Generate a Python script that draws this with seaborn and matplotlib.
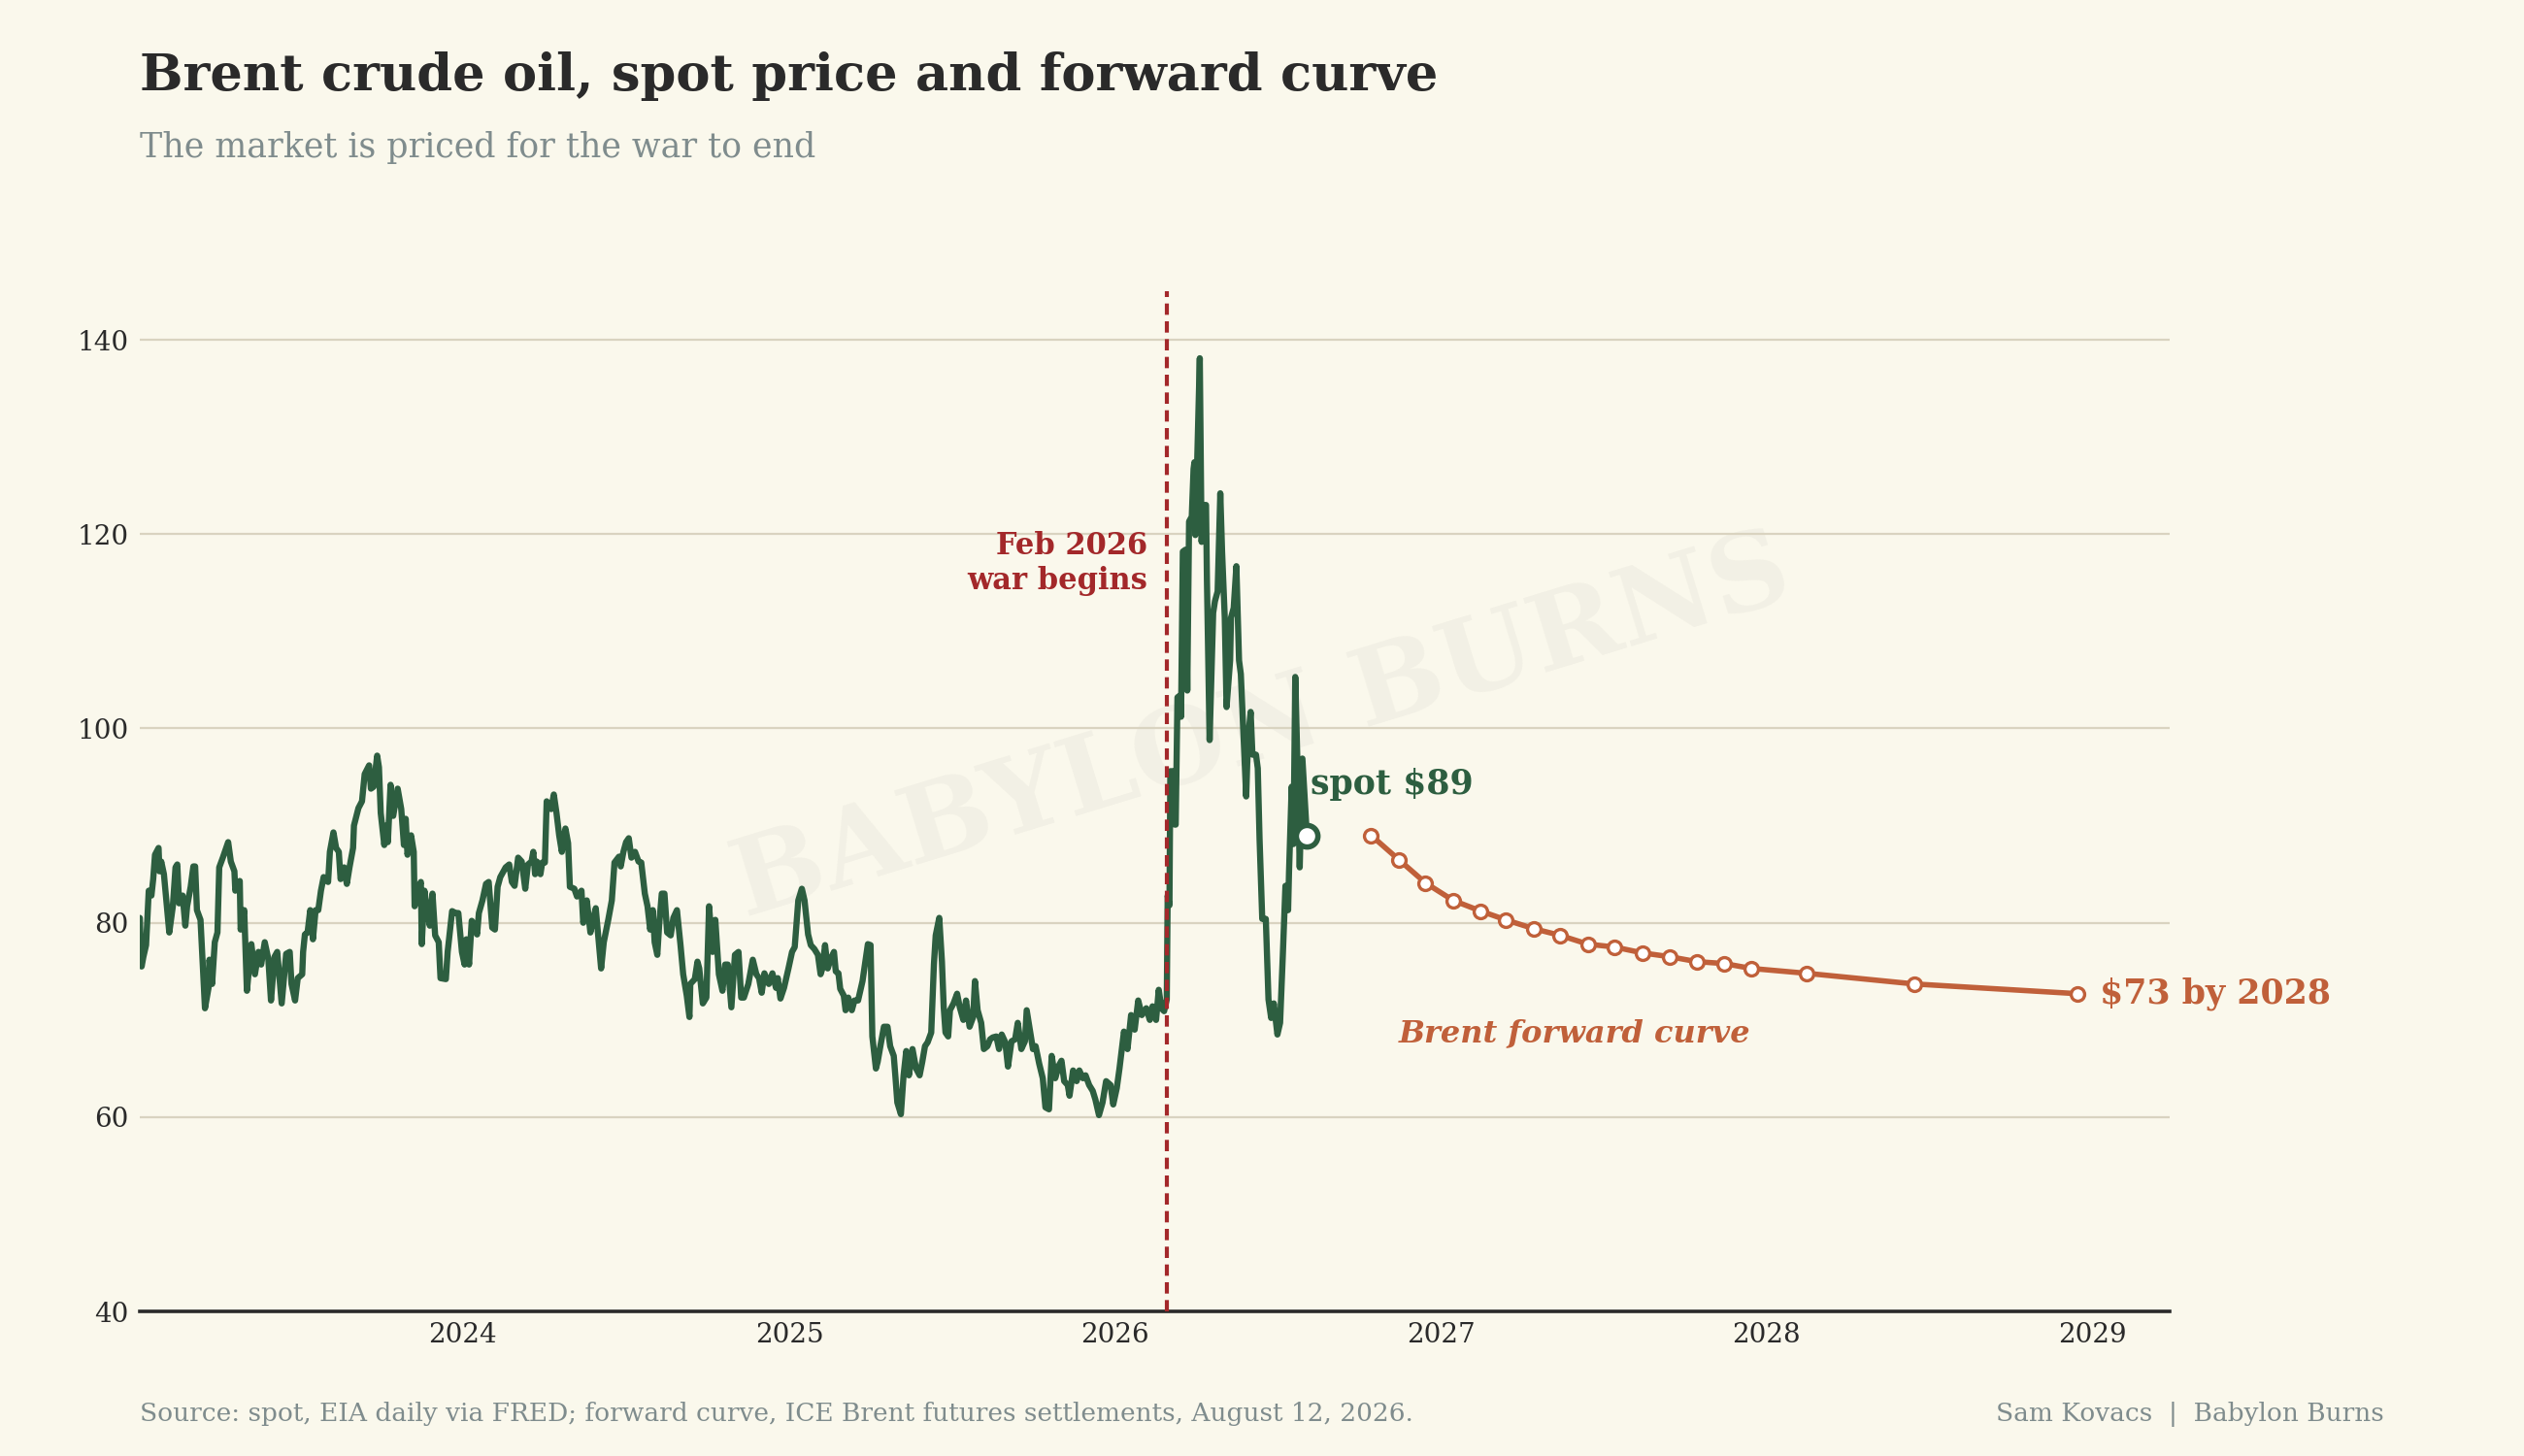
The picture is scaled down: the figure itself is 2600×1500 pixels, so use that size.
import numpy as np
import pandas as pd
import seaborn as sns
import matplotlib.pyplot as plt
import matplotlib.dates as mdates

# Brent spot: day-of-year offsets and USD/bbl
spot_2023_day = [3, 5, 7, 10, 13, 16, 18, 20, 24, 25, 27, 30, 34, 36, 40, 43, 45, 47, 51, 54, 56, 60, 63, 65, 67, 71,
                 76, 80, 81, 84, 87, 90, 92, 96, 102, 105, 109, 110, 115, 116, 120, 123, 128, 132, 136, 139, 143, 147,
                 150, 154, 157, 162, 167, 171, 173, 177, 180, 185, 186, 188, 191, 194, 197, 200, 203, 206, 209, 214,
                 216, 220, 223, 226, 228, 232, 235, 238, 242, 243, 248, 252, 255, 260, 262, 265, 269, 271, 273, 277,
                 279, 281, 284, 287, 290, 292, 296, 299, 301, 303, 307, 310, 311, 315, 318, 319, 322, 325, 328, 331,
                 334, 338, 340, 346, 348, 353, 357, 360, 364]
spot_2023_usd = [80.5, 75.5, 76.5, 77.7, 83.3, 82.8, 84.5, 87, 87.7, 85.3, 86.3, 85, 81, 79, 81.7, 85.7, 86, 82, 82.8,
                 79.7, 81.7, 83.7, 85.8, 85.8, 81.3, 80.3, 71.2, 73.3, 76.2, 73.7, 78, 79, 85.7, 86.7, 88.3, 86.3,
                 85.3, 83.3, 84.3, 79.3, 81.3, 73, 77.8, 74.7, 77, 75.7, 78, 76.3, 72, 76.5, 77, 71.7, 76.8, 77, 73.7,
                 72, 74.3, 74.7, 77, 78.8, 79, 81.3, 78.3, 81.3, 81.3, 83.3, 84.7, 84.2, 87.3, 89.3, 87.7, 87.3, 84.5,
                 85.7, 84, 85.7, 87.7, 90, 91.8, 92.5, 95.3, 96.2, 93.8, 94, 97.2, 96, 91.3, 88, 90, 88.3, 94.2, 91,
                 92.7, 93.8, 91.7, 88, 90.7, 87, 89, 87.3, 81.7, 83.5, 84.2, 77.8, 83.3, 81.3, 79.7, 83, 78.7, 78,
                 74.3, 74.2, 77, 81.2, 81, 81, 77]

spot_2024_day = [2, 4, 7, 10, 13, 16, 18, 22, 26, 29, 33, 36, 39, 42, 48, 52, 55, 58, 62, 66, 70, 73, 77, 79, 81, 83,
                 87, 89, 92, 94, 97, 99, 102, 105, 108, 111, 115, 118, 120, 125, 128, 133, 135, 139, 143, 146, 149,
                 155, 158, 163, 167, 170, 175, 177, 180, 183, 186, 189, 193, 197, 200, 204, 207, 210, 213, 215, 218,
                 220, 223, 226, 229, 233, 236, 240, 244, 247, 251, 254, 255, 260, 263, 265, 269, 273, 276, 280, 283,
                 287, 291, 294, 297, 301, 305, 309, 312, 315, 320, 325, 329, 332, 335, 338, 343, 347, 351, 353, 356,
                 360, 365]
spot_2024_usd = [75.7, 78.3, 75.7, 80.2, 79.8, 78.8, 81, 82.3, 84, 84.2, 79.5, 79.3, 83.7, 84.7, 85.7, 86, 84.2, 83.8,
                 86.7, 86.3, 83.5, 86, 86.3, 87.3, 85, 86.3, 85, 86.2, 86.2, 92.5, 92, 91.7, 93.2, 91.3, 89, 87.3,
                 89.7, 88.2, 83.7, 83.5, 82.7, 83.3, 80, 82.3, 79, 80.3, 81.5, 75.3, 78, 80.3, 82.3, 86.2, 86.8, 85.8,
                 87.3, 88.3, 88.7, 86.7, 87.3, 86.3, 86.2, 83, 81.7, 79.3, 81.3, 78, 76.7, 79.7, 83, 83, 79, 78.7,
                 80.5, 81.3, 77.7, 74.7, 72.5, 70.3, 73.7, 74.2, 76, 75.3, 71.7, 72.3, 81.7, 77, 80.3, 74.7, 73, 75.7,
                 75.7, 71.3, 76.7, 77, 72.3, 72.3, 73.7, 76.2, 74.7, 74.3, 72.8, 74.8, 73.7, 74.8, 73.3, 74.3, 72.2,
                 73.3, 75.3]

spot_2025_day = [3, 6, 10, 14, 17, 21, 24, 28, 32, 35, 37, 40, 43, 46, 50, 52, 55, 57, 61, 63, 66, 70, 73, 77, 82, 88,
                 91, 93, 97, 99, 102, 106, 110, 113, 117, 119, 121, 125, 128, 131, 134, 138, 142, 146, 149, 152, 155,
                 159, 160, 162, 164, 168, 169, 171, 173, 175, 178, 180, 184, 188, 191, 195, 198, 202, 206, 208, 211,
                 215, 218, 222, 225, 228, 232, 235, 238, 242, 245, 249, 253, 256, 260, 264, 266, 269, 273, 276, 280,
                 284, 287, 291, 294, 298, 302, 305, 308, 312, 314, 318, 322, 325, 329, 332, 336, 340, 343, 347, 351,
                 355, 360, 363]
spot_2025_usd = [77, 77.5, 82.3, 83.5, 82.3, 78.8, 77.7, 77.3, 76.7, 74.7, 75.3, 77.7, 75.3, 76.2, 77, 75, 74.8, 73.2,
                 72.5, 71, 72.3, 71, 72, 72, 74, 77.8, 77.7, 68.3, 65, 65.7, 67.3, 69.3, 69.3, 67.3, 66.3, 64, 61.5,
                 60.3, 64.3, 66.8, 64.3, 67, 65, 64.3, 65.7, 67.3, 67.7, 68.7, 71, 75.7, 78.7, 80.5, 79, 76, 71.3,
                 68.7, 68.3, 71, 71.7, 72.7, 71.3, 70, 72, 69.3, 70.3, 74, 71, 69.7, 67, 67.3, 68, 68.2, 68.3, 67,
                 68.5, 67.7, 65.2, 67.8, 68, 69.7, 67, 67.8, 71, 69.3, 67, 67.3, 65.5, 64, 61, 60.8, 66.3, 64, 65.3,
                 65.8, 63.7, 63.3, 62.2, 64.8, 63.7, 64.8, 64, 64.3, 63.3, 62.7, 61.8, 60.2, 61.5, 63.7, 63.3, 61.3]

spot_2026_day = [2, 5, 10, 14, 18, 22, 26, 30, 35, 39, 42, 46, 49, 52, 55, 58, 59, 61, 62, 65, 67, 68, 70, 73, 74, 76,
                 79, 81, 83, 86, 88, 89, 90, 95, 97, 100, 102, 103, 106, 110, 112, 115, 118, 120, 123, 125, 129, 130,
                 133, 136, 139, 141, 144, 147, 149, 152, 154, 158, 160, 162, 165, 169, 172, 175, 178, 182, 185, 188,
                 191, 194, 195, 198, 200, 202, 205, 207, 210, 215]
spot_2026_usd = [63, 65, 68.8, 67, 70.5, 69, 72, 70.5, 71.2, 70, 71.4, 70, 73.1, 71.2, 70.9, 72.1, 82.8, 81.8, 95.6,
                 95.6, 90.1, 90.1, 103.2, 103.4, 101.2, 118.2, 118.4, 103.9, 121.3, 121.8, 126.7, 127.4, 119.9, 138.1,
                 119.2, 123, 123, 115.3, 98.8, 111.9, 113.1, 114.1, 124.2, 118.2, 111.4, 102.2, 107, 111.4, 112.4,
                 116.7, 107, 105.6, 99.3, 93, 98.8, 101.7, 97.3, 97.3, 95.9, 88.6, 80.4, 80.4, 72.1, 70.2, 71.7, 68.5,
                 69.7, 76.5, 83.8, 81.3, 85.2, 94, 88.1, 105.3, 94.4, 85.7, 96.9, 89]

# ICE Brent forward curve, settlements Aug 12 2026
fwd_months = ["2026-10-15", "2026-11-15", "2026-12-15", "2027-01-15", "2027-02-15", "2027-03-15", "2027-04-15",
              "2027-05-15", "2027-06-15", "2027-07-15", "2027-08-15", "2027-09-15", "2027-10-15", "2027-11-15",
              "2027-12-15", "2028-02-15", "2028-06-15", "2028-12-15"]
fwd_usd = [89.0, 86.5, 84.1, 82.3, 81.2, 80.3, 79.4, 78.7, 77.8, 77.5, 76.9, 76.5, 76.0, 75.8, 75.3, 74.8, 73.7, 72.7]

war_date = "2026-02-28"
y_ticks = [40, 60, 80, 100, 120, 140]

BG = "#faf8ec"
GREEN = "#2d5e40"
ORANGE = "#c0603a"
RED = "#a3282a"
INK = "#2a2a2a"
GREY = "#7f8c8d"

sns.set_theme(style="white", rc={"axes.facecolor": BG, "figure.facecolor": BG})
plt.rcParams["font.family"] = ["DejaVu Serif", "DejaVu Sans"]

spot_parts = []
for yr, days, usd in [(2023, spot_2023_day, spot_2023_usd), (2024, spot_2024_day, spot_2024_usd),
                      (2025, spot_2025_day, spot_2025_usd), (2026, spot_2026_day, spot_2026_usd)]:
    d = pd.Timestamp(yr, 1, 1) + pd.to_timedelta(days, unit="D")
    spot_parts.append(pd.DataFrame({"date": d, "price": usd}))
spot = pd.concat(spot_parts, ignore_index=True)
fwd = pd.DataFrame({"date": pd.to_datetime(fwd_months), "price": fwd_usd})

fig, ax = plt.subplots(figsize=(13, 7.5), dpi=200)
fig.subplots_adjust(left=0.0554, right=0.8596, bottom=0.0993, top=0.8)

# watermark
ax.text(0.5, 0.5, "BABYLON BURNS", transform=fig.transFigure, ha="center", va="center",
        rotation=17, fontsize=40, fontweight="bold", color=INK, alpha=0.04, zorder=0)

sns.lineplot(data=spot, x="date", y="price", ax=ax, color=GREEN, linewidth=2.3, zorder=3)
sns.lineplot(data=fwd, x="date", y="price", ax=ax, color=ORANGE, linewidth=2.0, zorder=3,
             marker="o", markersize=5, markerfacecolor="white", markeredgecolor=ORANGE, markeredgewidth=1.2)

last = spot.iloc[-1]
ax.plot([last["date"]], [last["price"]], marker="o", markersize=8, markerfacecolor="white",
        markeredgecolor=GREEN, markeredgewidth=2.0, zorder=5)

war = pd.Timestamp(war_date)
ax.axvline(war, color=RED, linewidth=1.5, dashes=(2.8, 1.6), zorder=4)
ax.annotate("Feb 2026\nwar begins", xy=(war, 117), xytext=(-7, 0), textcoords="offset points",
            ha="right", va="center", fontsize=11, fontweight="bold", color=RED)

ax.annotate(f"spot ${last['price']:.0f}", xy=(last["date"], last["price"]), xytext=(1.2, 19),
            textcoords="offset points", ha="left", va="center", fontsize=12.5, fontweight="bold", color=GREEN)
ax.annotate(f"${fwd_usd[-1]:.0f} by 2028", xy=(fwd["date"].iloc[-1], fwd_usd[-1]), xytext=(8, 0),
            textcoords="offset points", ha="left", va="center", fontsize=12.5, fontweight="bold", color=ORANGE)
ax.text(fwd["date"].iloc[1], 68.6, "Brent forward curve", ha="left", va="center", fontsize=11.5,
        fontweight="bold", fontstyle="italic", color=ORANGE)

ax.set_xlim(spot["date"].iloc[0], pd.Timestamp("2029-03-28"))
ax.set_ylim(40, 145)
ax.set_yticks(y_ticks)
ax.xaxis.set_major_locator(mdates.YearLocator())
ax.xaxis.set_major_formatter(mdates.DateFormatter("%Y"))
ax.set_xlabel("")
ax.set_ylabel("")
ax.tick_params(axis="both", length=0, labelsize=10, labelcolor=INK)
ax.tick_params(axis="x", pad=4)
ax.tick_params(axis="y", pad=4)
ax.grid(axis="y", color="#d9d3c0", linewidth=0.8)
ax.grid(axis="x", visible=False)
ax.set_axisbelow(True)
for side in ["top", "right", "left"]:
    ax.spines[side].set_visible(False)
ax.spines["bottom"].set_color(INK)
ax.spines["bottom"].set_linewidth(1.3)

fig.text(0.0554, 0.938, "Brent crude oil, spot price and forward curve", ha="left", va="baseline",
         fontsize=19, fontweight="bold", color=INK)
fig.text(0.0554, 0.892, "The market is priced for the war to end", ha="left", va="baseline",
         fontsize=12.5, color=GREY)
fig.text(0.0554, 0.024, "Source: spot, EIA daily via FRED; forward curve, ICE Brent futures settlements, August 12, 2026.",
         ha="left", va="baseline", fontsize=9.5, color=GREY)
fig.text(0.9446, 0.024, "Sam Kovacs  |  Babylon Burns", ha="right", va="baseline", fontsize=9.5, color=GREY)

fig.savefig("out.png", dpi=200, facecolor=BG)
